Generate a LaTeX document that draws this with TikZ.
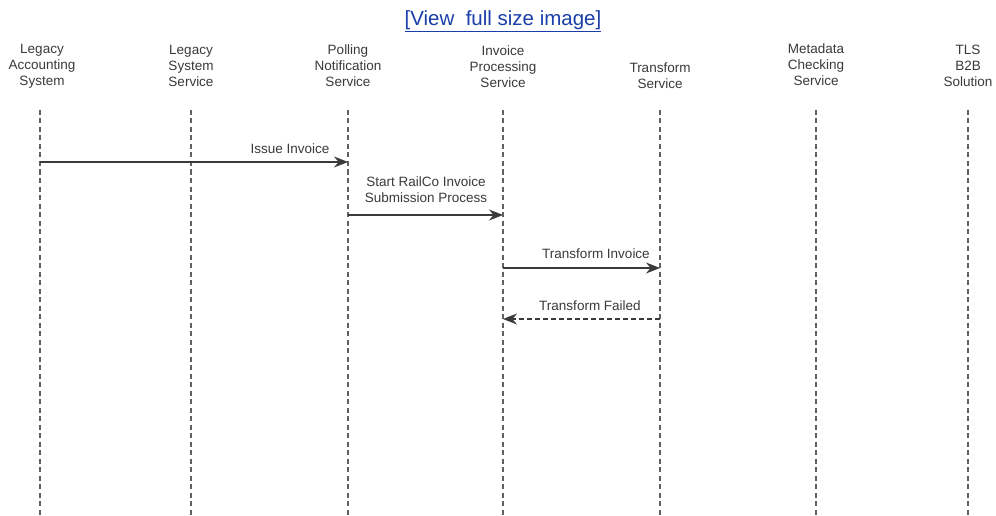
\documentclass[tikz,border=0pt]{standalone}
\usepackage{fontspec}
\setmainfont{Liberation Sans}
\usetikzlibrary{arrows.meta}
\definecolor{ink}{HTML}{3A3A3A}
\definecolor{linkblue}{HTML}{1A3FA8}
\begin{document}
\begin{tikzpicture}[x=1pt,y=-1pt,
  hdr/.style={font=\fontsize{13.5}{16}\selectfont, text=ink, align=center, inner sep=0pt},
  msg/.style={font=\fontsize{13.5}{16}\selectfont, text=ink, align=center, inner sep=0pt},
  life/.style={draw=ink!80, line width=1.3pt, dash pattern=on 5pt off 3.5pt},
  call/.style={draw=ink, line width=1.2pt, -{Stealth[length=14pt,width=11pt]}},
  reply/.style={draw=ink, line width=1.2pt, dash pattern=on 5pt off 3pt, -{Stealth[length=14pt,width=11pt]}}]
\useasboundingbox (0,0) rectangle (996,516);
\fill[white] (0,0) rectangle (996,516);

% link above the diagram
\node[font=\fontsize{20.5}{24}\selectfont, text=linkblue, inner sep=0pt] (link) at (503,21)
  {\underline{[View\ \ full size image]}};

% participant headers
\node[hdr] (h1) at (42,66) {Legacy\\Accounting\\System};
\node[hdr] (h2) at (191,66) {Legacy\\System\\Service};
\node[hdr] (h3) at (348,66) {Polling\\Notification\\Service};
\node[hdr] (h4) at (503,67) {Invoice\\Processing\\Service};
\node[hdr] (h5) at (660,76) {Transform\\Service};
\node[hdr] (h6) at (816,65) {Metadata\\Checking\\Service};
\node[hdr] (h7) at (968,66) {TLS\\B2B\\Solution};

% lifelines
\foreach \i/\x in {1/40,2/191,3/348,4/503,5/660,6/816,7/968}{
  \coordinate (t\i) at (\x,110);
  \coordinate (b\i) at (\x,516);
  \draw[life] (t\i) -- (b\i);
}

% message anchor points on the lifelines
\coordinate (m1s) at (40,162);  \coordinate (m1e) at (348,162);
\coordinate (m2s) at (348,215); \coordinate (m2e) at (503,215);
\coordinate (m3s) at (503,268); \coordinate (m3e) at (660,268);
\coordinate (m4s) at (660,319); \coordinate (m4e) at (503,319);

% messages
\draw[call] (m1s) -- (m1e);
\node[msg] (l1) at (290,149) {Issue Invoice};
\draw[call] (m2s) -- (m2e);
\node[msg] (l2) at (426,190) {Start RailCo Invoice\\Submission Process};
\draw[call] (m3s) -- (m3e);
\node[msg] (l3) at (596,254) {Transform Invoice};
\draw[reply] (m4s) -- (m4e);
\node[msg] (l4) at (590,306) {Transform Failed};
\end{tikzpicture}
\end{document}
